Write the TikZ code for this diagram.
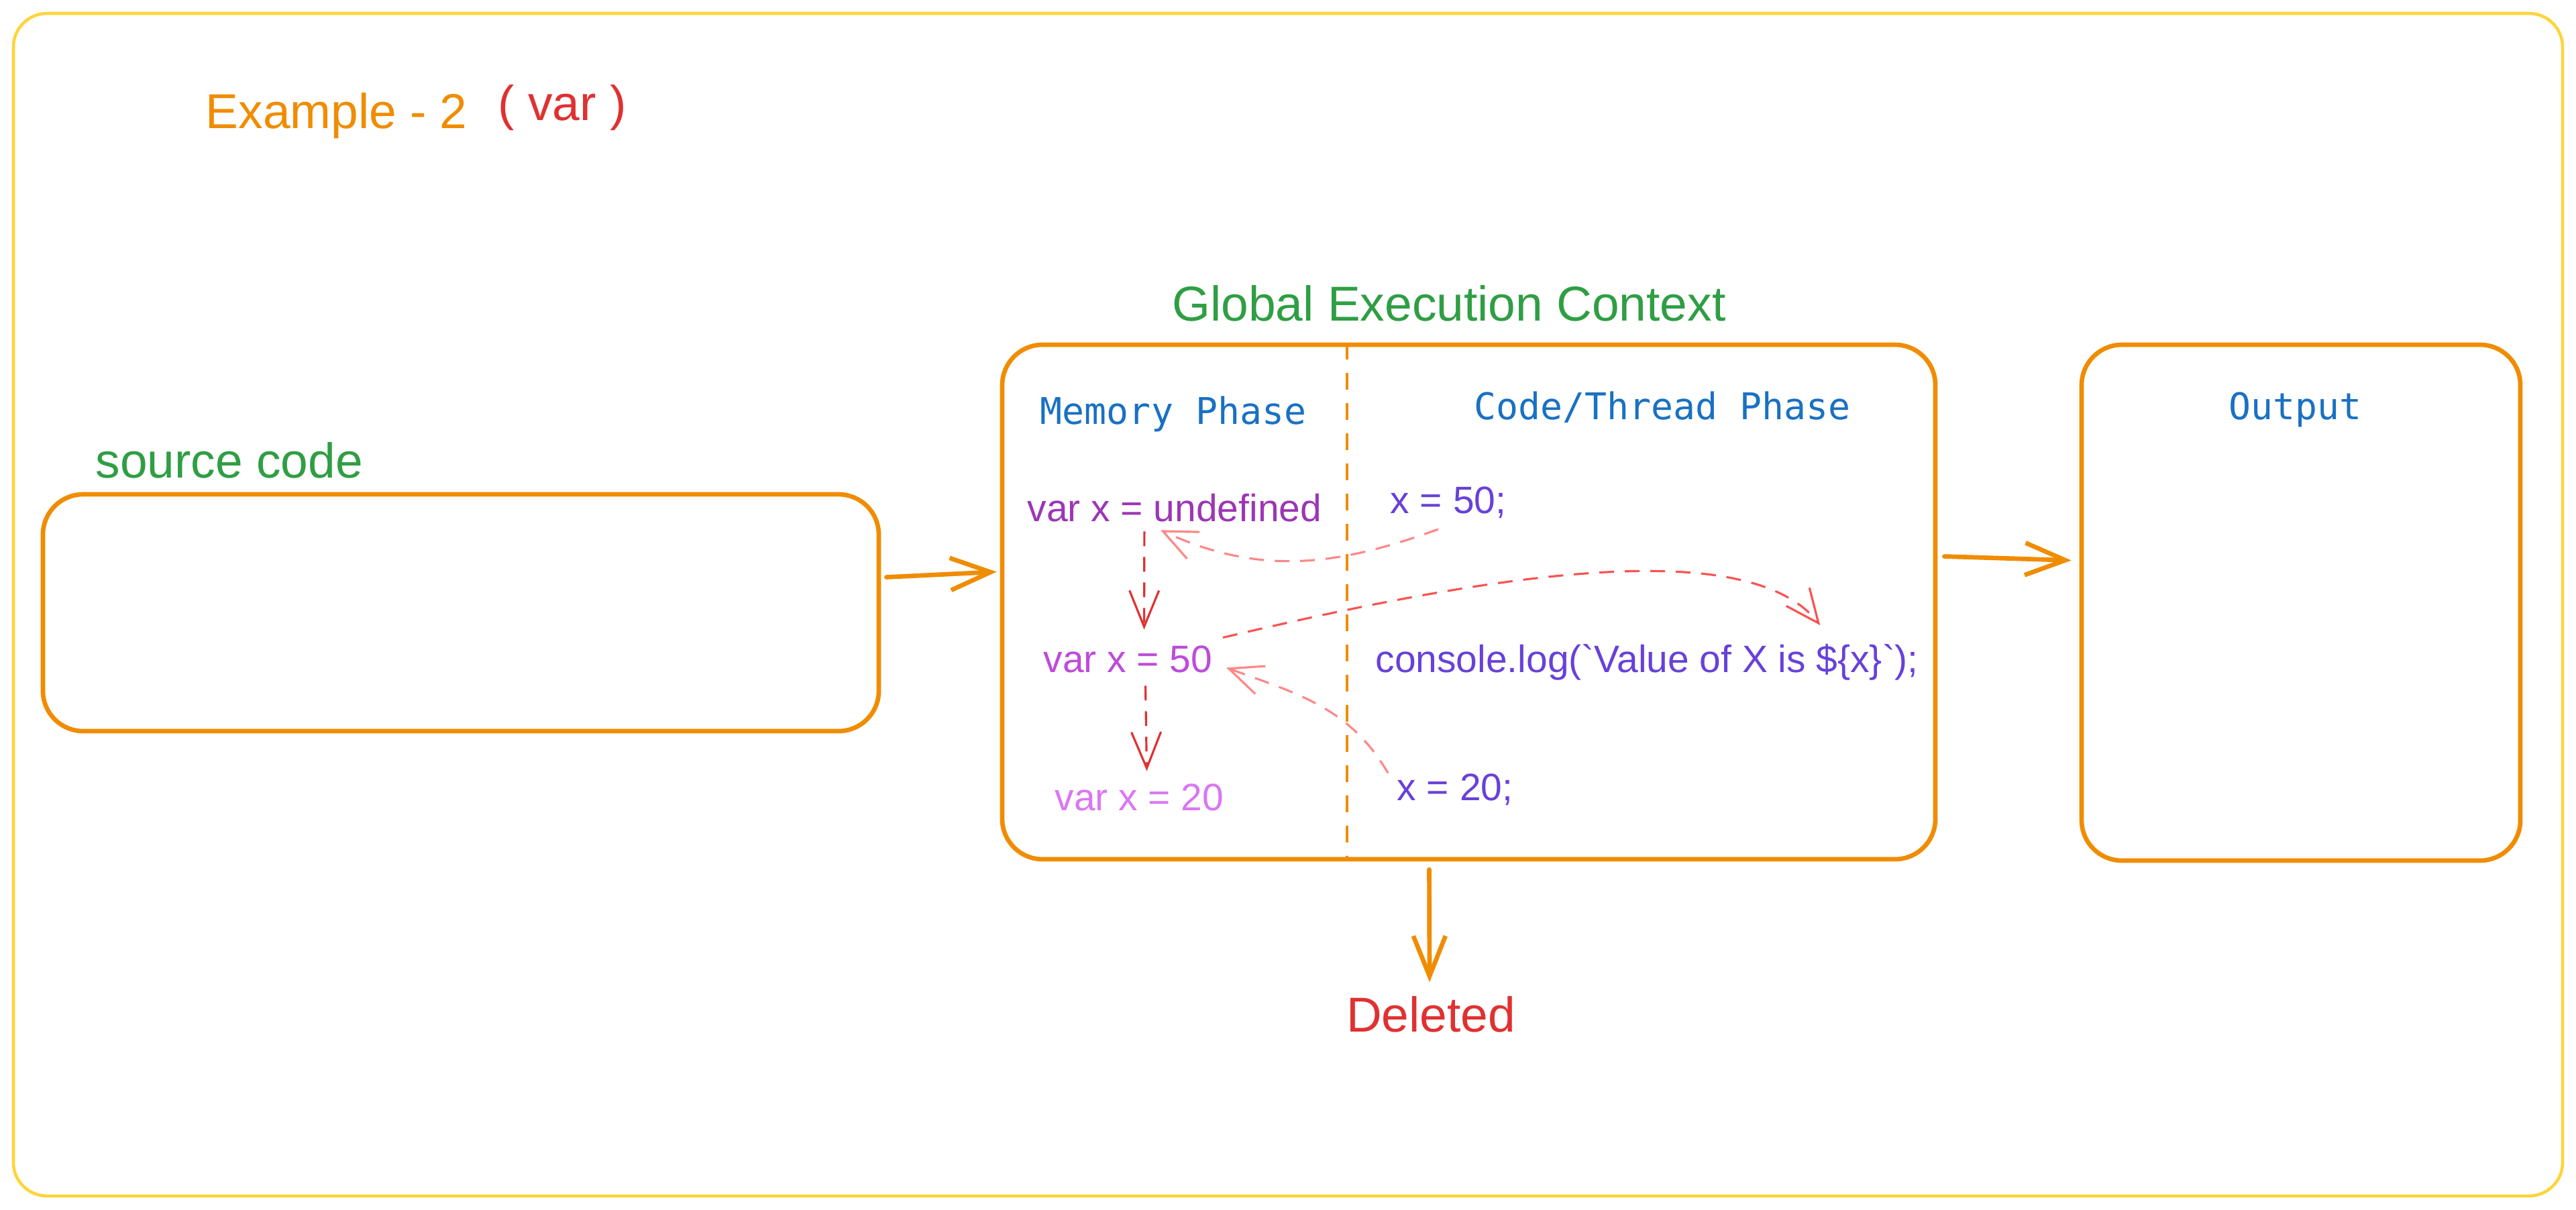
\documentclass[tikz,border=0pt]{standalone}
\usepackage{fontspec}
\setmainfont{Liberation Sans}
\newfontfamily\codefont{DejaVu Sans Mono}
\usetikzlibrary{arrows.meta}
\definecolor{exYellow}{HTML}{FFD43B}
\definecolor{exOrange}{HTML}{F08C00}
\definecolor{exGreen}{HTML}{2F9E44}
\definecolor{exRed}{HTML}{E03131}
\definecolor{exBlue}{HTML}{1971C2}
\definecolor{exPurple}{HTML}{9C36B5}
\definecolor{exGrape}{HTML}{BE4BDB}
\definecolor{exLilac}{HTML}{DA77F2}
\definecolor{exViolet}{HTML}{6741D9}
\definecolor{exPink}{HTML}{FF8787}
\definecolor{exCoral}{HTML}{FA5252}
% plain grave accent, kept out of the TeX quote ligatures
\newcommand{\grv}{{\XeTeXglyph\XeTeXcharglyph"0060\relax}}

\begin{document}
\begin{tikzpicture}[
  box/.style={draw=exOrange,line width=1.9pt,rounded corners=0.6cm,inner sep=0pt},
  big/.style={inner sep=0pt,font=\fontsize{20.8}{25}\selectfont},
  small/.style={inner sep=0pt,anchor=base west,font=\fontsize{16.2}{19}\selectfont},
  code/.style={inner sep=0pt,anchor=base,text=exBlue,font=\codefont\fontsize{15.6}{19}\selectfont},
  flow/.style={draw=exOrange,line width=1.9pt,line cap=round,
    -{Straight Barb[length=6mm,width=4.8mm]}},
  memflow/.style={draw=exRed,line width=0.9pt,dash pattern=on 2.2mm off 1.6mm,
    -{Straight Barb[length=5.4mm,width=4.4mm]}},
  pinkflow/.style={draw=exPink,line width=0.9pt,dash pattern=on 2.2mm off 1.6mm,
    -{Straight Barb[length=5mm,width=4.4mm]}},
  redflow/.style={draw=exCoral,line width=0.9pt,dash pattern=on 2.2mm off 1.6mm,
    -{Straight Barb[length=5mm,width=4.4mm]}},
  divider/.style={draw=exOrange,line width=0.9pt,dash pattern=on 2.5mm off 2mm}]
% Page with its margins
\useasboundingbox[fill=white] (0,0) rectangle (38.4,-18.03);
% Outer frame
\draw[exYellow,line width=1.3pt,rounded corners=0.5cm] (0.2,-0.2) rectangle (38.2,-17.83);
% Headings
\node[big,text=exOrange,anchor=base west] (ex) at (3.06,-1.91) {Example - 2};
\node[big,text=exRed,anchor=base west] (kind) at (7.42,-1.79) {( var )};
\node[big,text=exGreen,anchor=base] (gectitle) at (21.60,-4.78) {Global Execution Context};
\node[big,text=exGreen,anchor=base west] (srctitle) at (1.42,-7.12) {source code};
% The three boxes
\node[box,minimum width=12.46cm,minimum height=3.53cm] (src) at (6.87,-9.135) {};
\node[box,minimum width=13.91cm,minimum height=7.67cm] (gec) at (21.895,-8.975) {};
\node[box,minimum width=6.54cm,minimum height=7.69cm] (out) at (34.30,-8.985) {};
% Split of the context box
\draw[divider] ([xshift=-1.815cm]gec.north) -- ([xshift=-1.815cm]gec.south);
\node[code] (mem) at (17.49,-6.32) {Memory Phase};
\node[code] (thr) at (24.78,-6.25) {Code/Thread Phase};
\node[code] (outtitle) at (34.21,-6.25) {Output};
% Memory phase lines
\node[small,text=exPurple] (mu) at (15.31,-7.77) {var x = undefined};
\node[small,text=exGrape] (v50) at (15.55,-10.02) {var x = 50};
\node[small,text=exLilac] (v20) at (15.72,-12.08) {var x = 20};
% Code phase lines
\node[small,text=exViolet] (x50) at (20.72,-7.65) {x = 50;};
\node[small,text=exViolet] (cl) at (20.50,-10.02) {console.log(\grv Value of X is \$\{x\}\grv);};
\node[small,text=exViolet] (x20) at (20.82,-11.93) {x = 20;};
\node[big,text=exRed,anchor=base] (del) at (21.33,-15.38) {Deleted};
% Main flow
\draw[flow] ([xshift=0.08cm,yshift=0.53cm]src.east) -- ([xshift=-0.05cm,yshift=0.45cm]gec.west);
\draw[flow] ([xshift=0.10cm,yshift=0.68cm]gec.east) -- ([xshift=-0.12cm,yshift=0.63cm]out.west);
\draw[flow] ([xshift=-0.59cm,yshift=-0.12cm]gec.south) -- ([xshift=-0.02cm,yshift=0.2cm]del.north);
% Value of x going down the memory
\draw[memflow] ([xshift=-0.45cm,yshift=-0.14cm]mu.south) -- ([xshift=0.24cm,yshift=0.23cm]v50.north);
\draw[memflow] ([xshift=0.26cm,yshift=-0.19cm]v50.south) -- ([xshift=0.11cm,yshift=0.18cm]v20.north);
% Assignments written back into memory
\draw[pinkflow] ([xshift=-0.15cm,yshift=-0.16cm]x50.south) to[out=200,in=-25]
  ([xshift=-0.21cm,yshift=-0.12cm]mu.south);
\draw[pinkflow] ([xshift=-0.13cm]x20.north west) to[out=120,in=-20]
  ([xshift=0.2cm,yshift=-0.13cm]v50.east);
% Value read by the log
\draw[redflow] ([xshift=0.15cm,yshift=0.11cm]v50.north east) .. controls +(3.8,0.9) and +(-1.1,1.4) ..
  ([xshift=2.58cm,yshift=0.27cm]cl.north);
\end{tikzpicture}
\end{document}
